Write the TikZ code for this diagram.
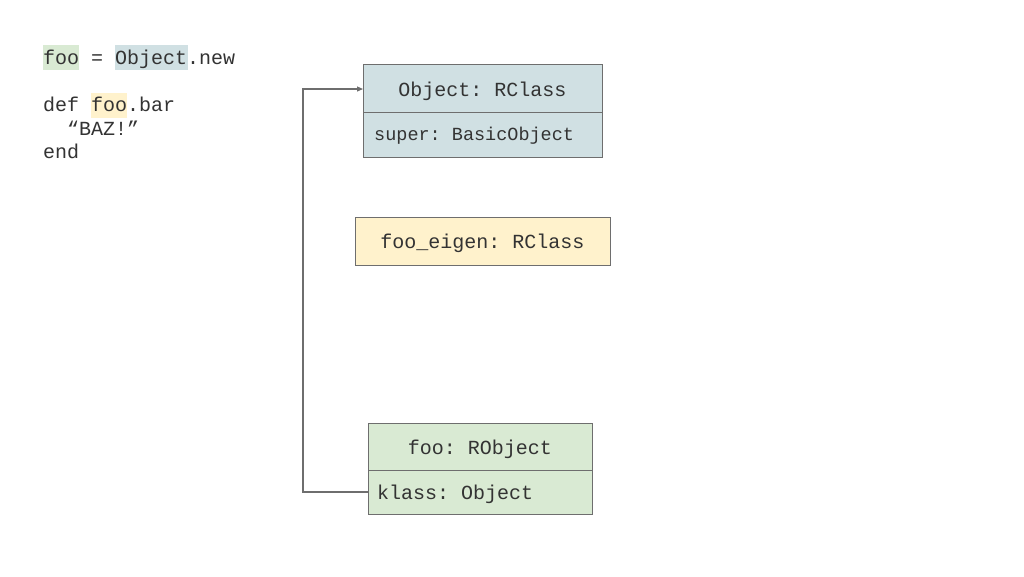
\documentclass[tikz,border=0pt]{standalone}
\usepackage{fontspec}
\setmonofont{Liberation Mono}
\usetikzlibrary{arrows.meta}
\definecolor{cblue}{HTML}{D0E0E3}
\definecolor{cyel}{HTML}{FFF2CC}
\definecolor{cgreen}{HTML}{D9EAD3}
\definecolor{cline}{HTML}{6E6E6E}
\definecolor{ctext}{HTML}{333333}
\begin{document}
\begin{tikzpicture}[x=1pt,y=-1pt,
  code/.style={anchor=base west,inner sep=0pt,text=ctext,font=\ttfamily\fontsize{20}{24}\selectfont},
  boxtxt/.style={inner sep=0pt,text=ctext,font=\ttfamily\fontsize{20}{24}\selectfont},
  smalltxt/.style={inner sep=0pt,text=ctext,font=\ttfamily\fontsize{18.5}{22}\selectfont},
  frame/.style={draw=cline,line width=1pt},
  conn/.style={draw=cline,line width=1.2pt}]
\useasboundingbox (0,0) rectangle (1024,576);
\fill[white] (0,0) rectangle (1024,576);
% highlights
\fill[cgreen] (43,45) rectangle (79,70);
\fill[cblue] (115,45) rectangle (188,70);
\fill[cyel] (91,93) rectangle (127,118);
% code
\node[code] (l1) at (43,64) {foo = Object.new};
\node[code] (l2) at (43,111) {def foo.bar};
\node[code] (l3) at (43,135) {\ \ “BAZ!”};
\node[code] (l4) at (43,158) {end};
% Object box
\path[frame,fill=cblue] (363,64) rectangle (602,157);
\draw[frame] (363,112) -- (602,112);
\coordinate (objin) at (363,89);
\node[boxtxt] (objt) at (482.5,91) {Object: RClass};
\node[smalltxt,anchor=west] (objs) at (374,136) {super: BasicObject};
% eigen box
\path[frame,fill=cyel] (355,217) rectangle (610,265);
\node[boxtxt] (eig) at (482.5,243) {foo\_eigen: RClass};
% foo box
\path[frame,fill=cgreen] (368,423) rectangle (592,514);
\draw[frame] (368,470) -- (592,470);
\coordinate (fooout) at (368,492);
\node[boxtxt] (foot) at (480,449) {foo: RObject};
\node[boxtxt,anchor=west] (foos) at (377,494) {klass: Object};
% connector
\draw[conn,-{Triangle[length=6pt,width=5pt]}] (fooout) -- (303,492) -- (303,89) -- (objin);
\end{tikzpicture}
\end{document}
